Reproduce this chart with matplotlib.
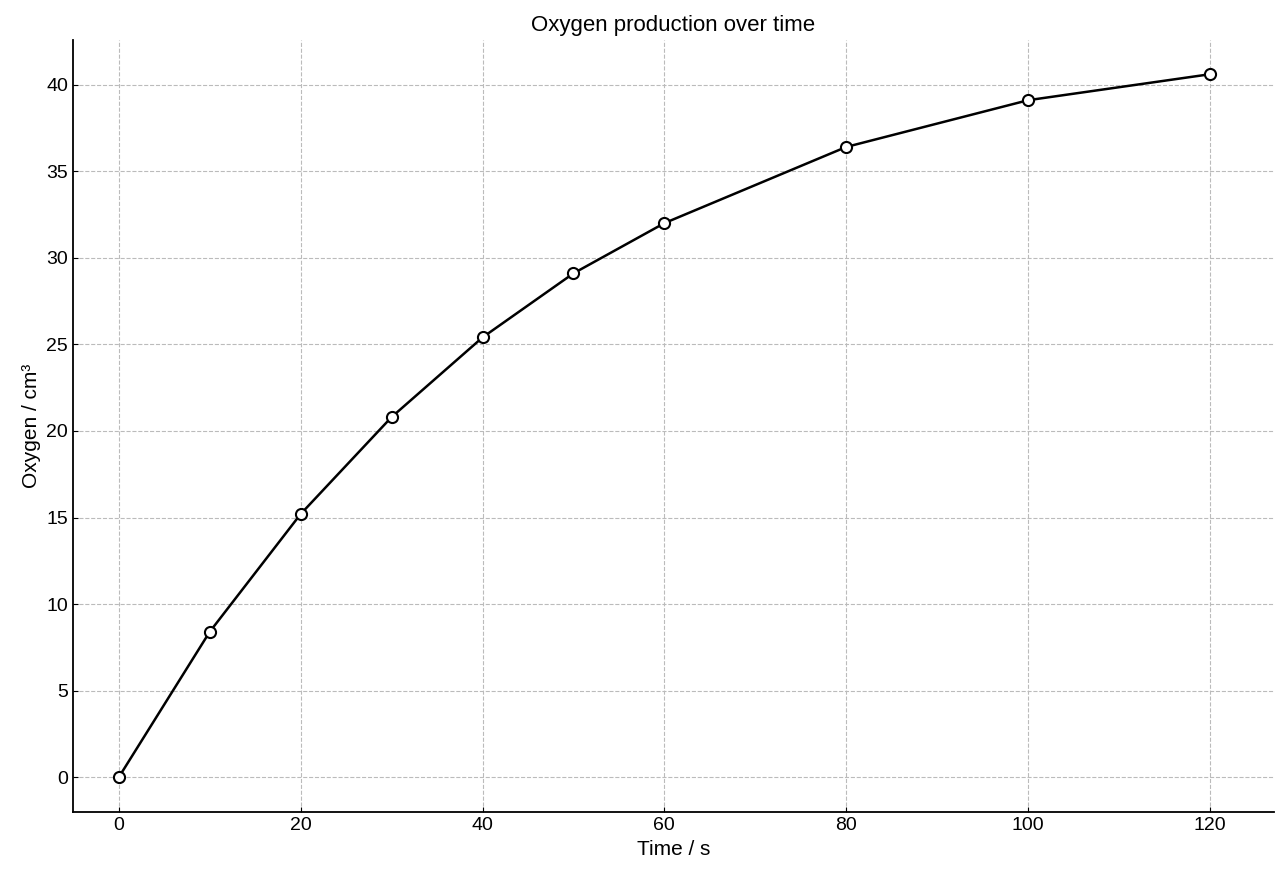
import matplotlib
matplotlib.use("Agg")
import matplotlib.pyplot as plt

plt.rcParams['font.family'] = ['Liberation Sans', 'DejaVu Sans']

# Data
time_s = [0, 10, 20, 30, 40, 50, 60, 80, 100, 120]
oxygen_cm3 = [0.0, 8.4, 15.2, 20.8, 25.4, 29.1, 32.0, 36.4, 39.1, 40.6]

fig, ax = plt.subplots(figsize=(12.8, 8.8), dpi=100)
fig.subplots_adjust(left=0.057, right=0.995, top=0.955, bottom=0.077)

ax.plot(time_s, oxygen_cm3, color="black", lw=1.8, marker="o", ms=8,
        mfc="white", mec="black", mew=1.5, zorder=3)

ax.set_xlim(-5.04, 127)
ax.set_ylim(-2.02, 42.6)
ax.set_xticks([0, 20, 40, 60, 80, 100, 120])
ax.set_yticks(range(0, 41, 5))
ax.grid(True, ls="--", color="#bbbbbb", lw=0.8)
ax.tick_params(direction="in", labelsize=14)
for s in ["top", "right"]:
    ax.spines[s].set_visible(False)
for s in ["left", "bottom"]:
    ax.spines[s].set_linewidth(1.3)

ax.set_xlabel("Time / s", fontsize=15)
ax.set_ylabel("Oxygen / cm³", fontsize=15)
ax.set_title("Oxygen production over time", fontsize=16)

fig.savefig("out.png")
